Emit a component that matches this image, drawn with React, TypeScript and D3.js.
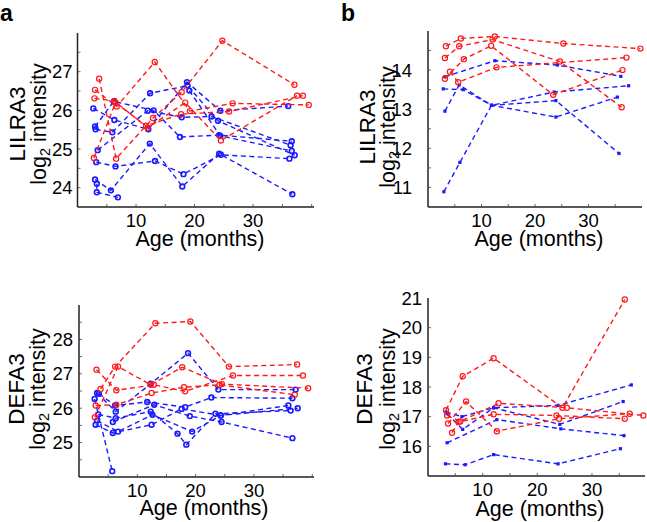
import React from "react";
import * as d3 from "d3";

type Pt = [number, number];

// ---------- data: [age (months), log2 intensity] ----------
const lilraA_red: Pt[][] = [
  [[2.9, 26.31], [6.3, 26.24], [12.0, 25.55], [18.4, 26.2], [24.5, 25.22], [37.5, 26.38]],
  [[3.7, 26.82], [6.6, 24.75], [12.9, 25.8], [17.8, 26.47], [24.75, 27.8], [37.06, 26.66]],
  [[3.0, 26.53], [6.7, 26.1], [13.2, 27.25], [19.2, 25.98], [26.5, 26.18], [39.5, 26.14]],
  [[2.8, 24.77], [6.5, 26.2], [11.7, 25.6], [17.7, 25.9], [25.9, 25.97], [38.5, 26.38]],
];
const lilraA_blue: Pt[][] = [
  [[3.0, 24.21], [5.7, 23.93], [12.35, 25.14], [17.9, 24.03], [24.2, 24.88], [36.7, 23.83]],
  [[3.2, 24.66], [6.5, 24.55], [13.25, 24.69], [18.1, 24.35], [24.5, 24.85], [36.2, 24.75]],
  [[2.7, 26.05], [6.3, 25.75], [12.1, 25.51], [18.7, 26.73], [24.4, 25.99], [36.0, 26.11]],
  [[3.0, 25.58], [6.2, 26.23], [13.0, 26.0], [17.5, 25.31], [24.2, 25.36], [36.6, 25.2]],
  [[3.1, 25.51], [5.95, 25.43], [12.4, 26.44], [18.8, 26.64], [24.0, 25.73], [37.1, 24.84]],
  [[3.45, 24.97], [12.0, 25.99], [17.8, 25.82], [22.9, 25.84], [36.4, 25.1]],
  [[3.3, 24.1], [3.3, 23.88], [6.9, 23.75]],
  [[19.1, 26.51], [24.4, 25.34], [36.6, 24.95]],
];

const lilraB_red: Pt[][] = [
  [[3.35, 14.61], [6.15, 14.81], [12.5, 14.86], [25.3, 14.68], [39.7, 14.55]],
  [[3.16, 14.31], [5.83, 14.61], [12.06, 14.78], [24.65, 14.22], [36.2, 13.05]],
  [[3.16, 13.78], [6.7, 14.28], [11.8, 14.62], [23.4, 13.37], [36.35, 14.0]],
  [[4.1, 13.96], [5.64, 13.69], [12.8, 14.07], [37.1, 14.32]],
];
const lilraB_blue: Pt[][] = [
  [[2.97, 10.89], [5.96, 11.64], [11.87, 13.1], [23.6, 13.44], [37.5, 13.6]],
  [[3.16, 13.83], [12.5, 14.24], [24.2, 14.13], [36.05, 13.84]],
  [[2.85, 13.52], [6.58, 13.5], [11.87, 13.1], [23.9, 12.8], [35.4, 13.31]],
  [[3.16, 12.95], [5.83, 13.62], [11.87, 13.1], [23.9, 13.22], [35.7, 11.87]],
];

const defaA_red: Pt[][] = [
  [[2.85, 26.08], [6.4, 26.1], [12.45, 26.44], [18.0, 26.61], [24.1, 26.68], [37.0, 26.39]],
  [[3.0, 27.12], [6.4, 26.52], [12.85, 26.68], [18.2, 26.49], [26.4, 26.95], [38.4, 26.95]],
  [[3.7, 26.56], [6.2, 27.21], [13.1, 28.47], [19.1, 28.52], [25.7, 27.21], [37.4, 27.27]],
  [[2.73, 25.74], [6.7, 27.21], [12.3, 26.68], [17.7, 27.19], [24.5, 26.7], [39.3, 26.58]],
];
const defaA_blue: Pt[][] = [
  [[2.68, 26.27], [5.7, 24.17]],
  [[3.1, 26.44], [6.3, 25.9], [12.3, 26.71], [18.7, 27.6], [23.9, 26.54], [37.15, 26.54]],
  [[3.4, 26.42], [6.2, 26.08], [11.7, 26.18], [18.2, 26.03], [22.7, 26.31], [36.6, 26.29]],
  [[2.85, 25.52], [5.8, 25.28], [12.45, 25.52], [17.6, 25.98], [24.3, 25.79], [35.9, 26.08]],
  [[3.1, 25.64], [6.7, 25.32], [12.6, 25.81], [19.4, 25.32], [24.3, 25.79], [37.5, 26.0]],
  [[3.3, 25.82], [6.3, 25.71], [12.3, 25.9], [16.9, 25.26], [18.4, 24.94], [23.4, 25.84], [36.3, 25.93]],
  [[5.8, 25.6], [12.9, 26.1], [19.0, 25.77], [24.45, 25.6], [36.6, 25.13]],
];

const defaB_red: Pt[][] = [
  [[3.3, 17.22], [6.35, 18.36], [12.0, 18.97], [24.6, 17.3], [36.0, 20.95]],
  [[3.5, 17.04], [5.9, 16.84], [12.9, 17.45], [25.4, 17.3], [39.4, 17.04]],
  [[3.67, 16.77], [6.97, 17.51], [12.6, 16.51], [24.0, 16.93], [36.9, 17.1]],
  [[4.4, 16.46], [5.6, 16.82], [12.0, 17.08], [23.5, 17.04], [36.0, 16.93]],
];
const defaB_blue: Pt[][] = [
  [[3.2, 15.41], [6.8, 15.38], [12.0, 15.72], [23.8, 15.41], [35.2, 15.92]],
  [[3.5, 16.12], [12.6, 16.9], [24.3, 16.59], [35.85, 16.36]],
  [[3.3, 17.16], [6.2, 17.0], [12.0, 17.3], [23.8, 17.38], [37.2, 18.07]],
  [[3.5, 17.1], [6.35, 16.57], [12.0, 17.3], [24.1, 16.74], [35.7, 17.51]],
];

const xLabels = [10, 20, 30];
const xMinorTicks = [5, 10, 15, 20, 25, 30, 35, 40];
const genes = ["LILRA3", "LILRA3", "DEFA3", "DEFA3"];
const yLabelsTL = [24, 25, 26, 27];
const yLabelsTR = [11, 12, 13, 14];
const yLabelsBL = [25, 26, 27, 28];
const yLabelsBR = [16, 17, 18, 19, 20, 21];

// ---------- layout ----------
interface Panel {
  gene: string;
  red: Pt[][];
  blue: Pt[][];
  xDomain: [number, number];
  yDomain: [number, number];
  yLabels: number[];
  yStep: number;
  l: number; r: number; t: number; b: number;
  labGap: number;
  nameX: number; logX: number; titleY: number; titleX: number; yTitleY: number;
  blueSquare: boolean;
}

const panels: Panel[] = [
  { gene: genes[0], red: lilraA_red, blue: lilraA_blue, xDomain: [0, 40.4], yDomain: [23.5, 28], yLabels: yLabelsTL, yStep: 0.5,
    l: 77.5, r: 314, t: 33, b: 207, labGap: 5, nameX: 25, logX: 46, titleY: 245, titleX: 200, yTitleY: 124, blueSquare: false },
  { gene: genes[1], red: lilraB_red, blue: lilraB_blue, xDomain: [0, 40], yDomain: [10.5, 15], yLabels: yLabelsTR, yStep: 0.5,
    l: 428, r: 642, t: 31, b: 207, labGap: 16, nameX: 375, logX: 395, titleY: 245, titleX: 539, yTitleY: 127, blueSquare: true },
  { gene: genes[2], red: defaA_red, blue: defaA_blue, xDomain: [0, 40.3], yDomain: [24, 29], yLabels: yLabelsBL, yStep: 0.5,
    l: 79, r: 314, t: 305, b: 477, labGap: 6, nameX: 24, logX: 45, titleY: 514, titleX: 204, yTitleY: 389, blueSquare: false },
  { gene: genes[3], red: defaB_red, blue: defaB_blue, xDomain: [0, 39.7], yDomain: [15, 21], yLabels: yLabelsBR, yStep: 1,
    l: 428, r: 645, t: 298, b: 476, labGap: 6, nameX: 372, logX: 395, titleY: 515, titleX: 540, yTitleY: 389, blueSquare: true },
];

const RED = "#ff1a1a";
const BLUE = "#1a1aff";
const FONT = "'Liberation Sans', Arial, Helvetica, sans-serif";

function PanelView({ p }: { p: Panel }) {
  const x = d3.scaleLinear().domain(p.xDomain).range([p.l, p.r]);
  const y = d3.scaleLinear().domain(p.yDomain).range([p.b, p.t]);
  const line = d3.line<Pt>().x((d) => x(d[0])).y((d) => y(d[1]));
  const yTicks = d3.range(Math.ceil(p.yDomain[0] / p.yStep) * p.yStep, p.yDomain[1] + 1e-6, p.yStep)
    .filter((v) => v > p.yDomain[0] + 1e-6 && v < p.yDomain[1] - 1e-6);
  const xt = xMinorTicks.filter((v) => v < p.xDomain[1]);
  return (
    <g>
      {p.blue.map((s, i) => (
        <g key={"b" + i}>
          <path d={line(s) || ""} fill="none" stroke={BLUE} strokeWidth={1.4} strokeDasharray="5,3.5" />
          {s.map((d, j) =>
            p.blueSquare ? (
              <rect key={j} x={x(d[0]) - 1.6} y={y(d[1]) - 1.6} width={3.2} height={3.2} fill={BLUE} />
            ) : (
              <circle key={j} cx={x(d[0])} cy={y(d[1])} r={2.4} fill="none" stroke={BLUE} strokeWidth={1.6} />
            )
          )}
        </g>
      ))}
      {p.red.map((s, i) => (
        <g key={"r" + i}>
          <path d={line(s) || ""} fill="none" stroke={RED} strokeWidth={1.4} strokeDasharray="5,3.5" />
          {s.map((d, j) => (
            <circle key={j} cx={x(d[0])} cy={y(d[1])} r={2.6} fill="none" stroke={RED} strokeWidth={1.2} />
          ))}
        </g>
      ))}
      <line x1={p.l} x2={p.l} y1={p.t} y2={p.b} stroke="#222" strokeWidth={1.5} />
      <line x1={p.l} x2={p.r} y1={p.b} y2={p.b} stroke="#222" strokeWidth={1.5} />
      {yTicks.map((v) => (
        <line key={"yt" + v} x1={p.l} x2={p.l + 3} y1={y(v)} y2={y(v)} stroke="#444" strokeWidth={0.8} />
      ))}
      {xt.map((v) => (
        <line key={"xt" + v} x1={x(v)} x2={x(v)} y1={p.b} y2={p.b - 3} stroke="#444" strokeWidth={0.8} />
      ))}
      {p.yLabels.map((v) => (
        <text key={"yl" + v} x={p.l - p.labGap} y={y(v)} dy="0.36em" textAnchor="end" fontSize={18.5} fontFamily={FONT} fill="#000">
          {v}
        </text>
      ))}
      {xLabels.map((v) => (
        <text key={"xl" + v} x={x(v)} y={p.b + 19.5} textAnchor="middle" fontSize={18.5} fontFamily={FONT} fill="#000">
          {v}
        </text>
      ))}
      <text x={p.titleX} y={p.titleY + 0.5} textAnchor="middle" fontSize={21.5} fontFamily={FONT} fill="#000">
        Age (months)
      </text>
      <text transform={`translate(${p.nameX},${p.yTitleY}) rotate(-90)`} textAnchor="middle" fontSize={22.5} fontFamily={FONT} fill="#000">
        {p.gene}
      </text>
      <text transform={`translate(${p.logX},${p.yTitleY}) rotate(-90)`} textAnchor="middle" fontSize={21.5} fontFamily={FONT} fill="#000">
        log<tspan fontSize={14.5} dy={4}>2</tspan>
        <tspan dy={-4}> intensity</tspan>
      </text>
    </g>
  );
}

export default function App() {
  return (
    <div style={{ position: "absolute", left: 0, top: 0 }}>
      <svg width={647} height={522} style={{ display: "block", background: "#fff" }}>
        <rect width={647} height={522} fill="#fff" />
        <text x={0} y={21} fontSize={23} fontWeight="bold" fontFamily={FONT}>a</text>
        <text x={341} y={21} fontSize={23} fontWeight="bold" fontFamily={FONT}>b</text>
        {panels.map((p, i) => (
          <PanelView key={i} p={p} />
        ))}
      </svg>
    </div>
  );
}
